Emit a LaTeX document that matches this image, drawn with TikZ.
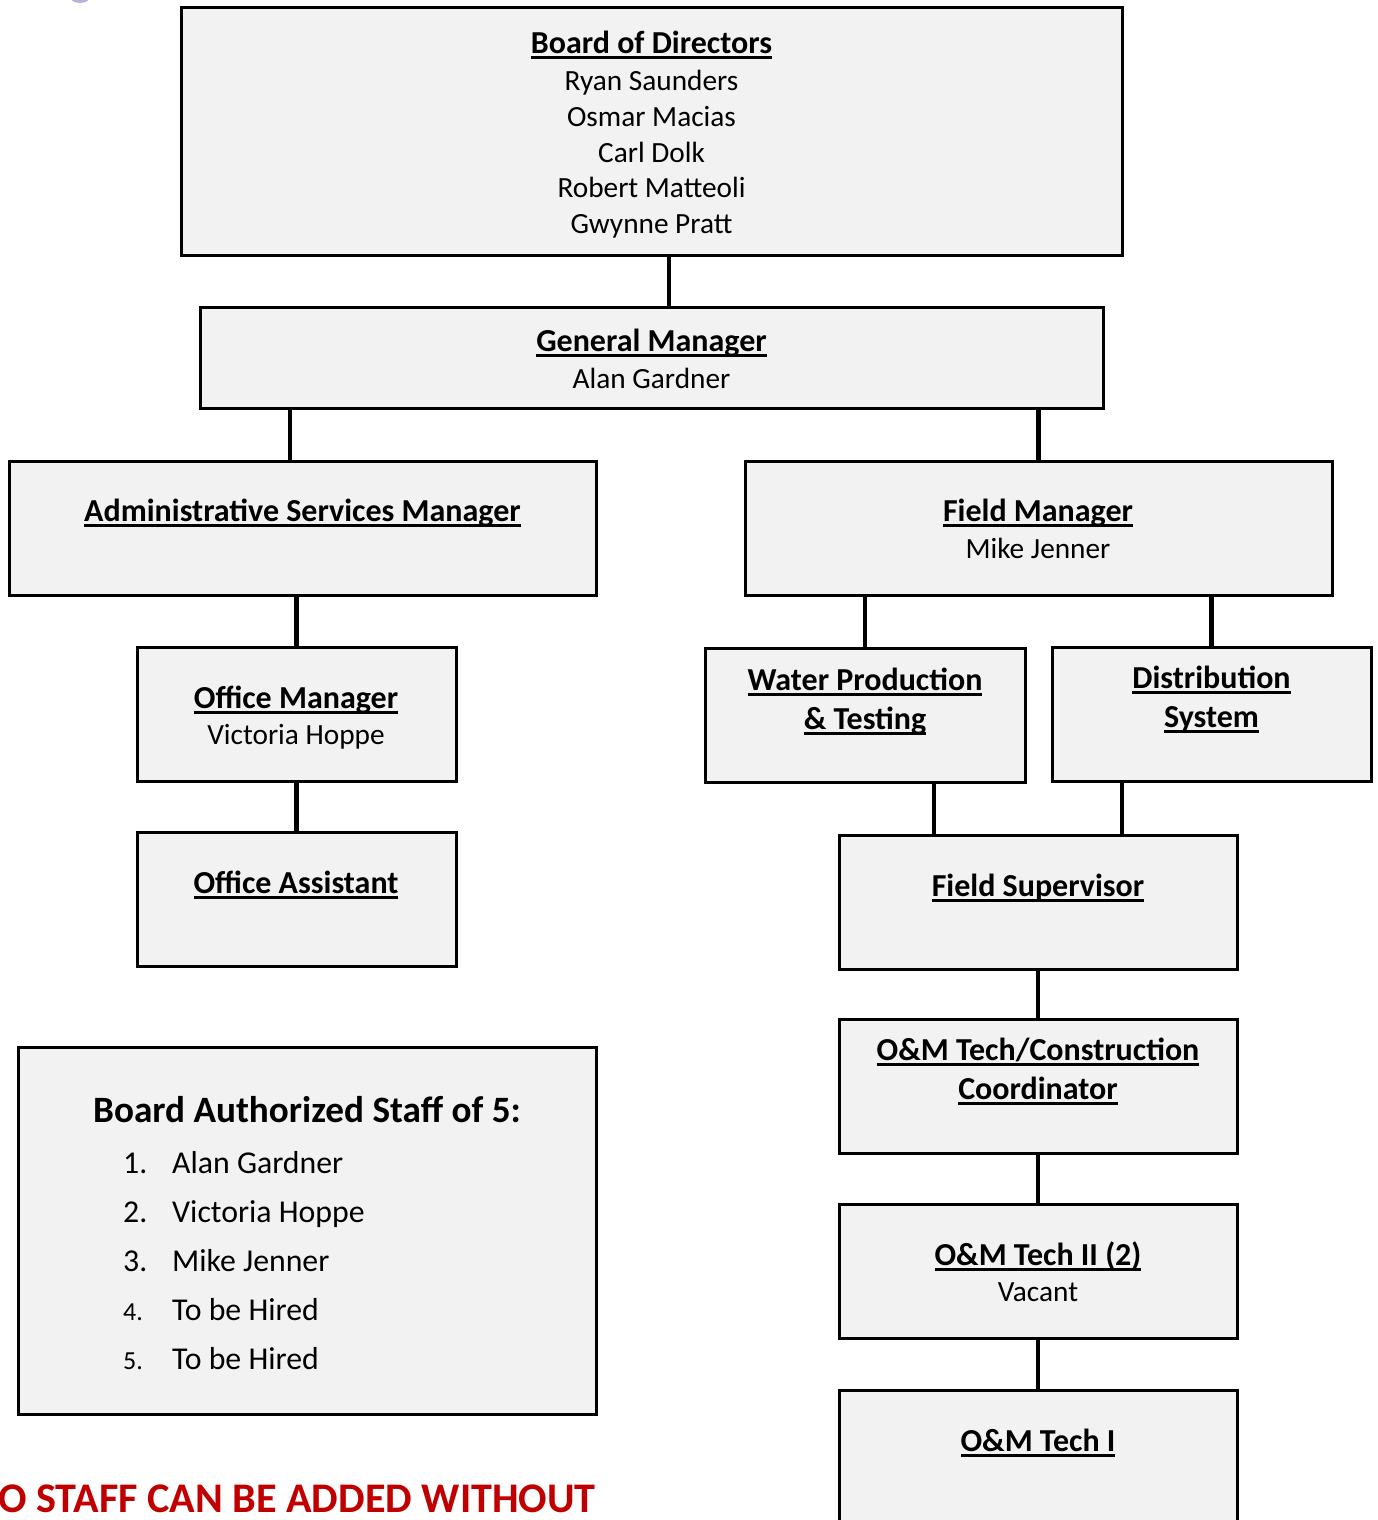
\documentclass[tikz,border=0pt]{standalone}
\usepackage{fontspec}
\setmainfont{Carlito}
\newcommand{\myul}[1]{\setbox0\hbox{#1}\rlap{\rule[-5.8pt]{\wd0}{2.6pt}}\box0}
\definecolor{boxfill}{HTML}{F2F2F2}
\definecolor{warnred}{HTML}{C00000}
\definecolor{blobpurple}{HTML}{B9B0DC}
\tikzset{
  box/.style={draw=black, line width=3pt, fill=boxfill, rectangle, inner sep=0pt},
  conn/.style={draw=black, line width=4.5pt},
  ttl/.style={anchor=base, inner sep=0pt, font=\fontsize{32}{38}\selectfont\bfseries},
  nm/.style={anchor=base, inner sep=0pt, font=\fontsize{29.3}{35}\selectfont},
  lst/.style={anchor=base west, inner sep=0pt, font=\fontsize{31.8}{38}\selectfont},
}
\begin{document}
\begin{tikzpicture}[x=1pt,y=-1pt]
\useasboundingbox (0,0) rectangle (1377,1520);
\fill[blobpurple] (80,-3) ellipse [x radius=10, y radius=6];

% boxes
\node[box, minimum width=941pt, minimum height=247pt] (bod) at (651.5,131.5) {};
\node[box, minimum width=903pt, minimum height=101pt] (gm) at (651.5,357.5) {};
\node[box, minimum width=587pt, minimum height=134pt] (asm) at (302.5,528) {};
\node[box, minimum width=587pt, minimum height=134pt] (fm) at (1038.5,528) {};
\node[box, minimum width=319pt, minimum height=134pt] (om) at (296.5,714) {};
\node[box, minimum width=319pt, minimum height=134pt] (oa) at (296.5,899) {};
\node[box, minimum width=320pt, minimum height=134pt] (wp) at (865,715) {};
\node[box, minimum width=319pt, minimum height=134pt] (ds) at (1211.5,714) {};
\node[box, minimum width=398pt, minimum height=134pt] (fs) at (1038,902) {};
\node[box, minimum width=398pt, minimum height=134pt] (omc) at (1038,1086) {};
\node[box, minimum width=398pt, minimum height=134pt] (t2) at (1038,1271) {};
\node[box, minimum width=398pt, minimum height=134pt] (t1) at (1038,1457) {};
\node[box, minimum width=578pt, minimum height=367pt] (staff) at (307,1230.5) {};

% connectors
\draw[conn] ([xshift=17.5pt]gm.north) -- ([xshift=17.5pt]gm.north |- bod.south);
\draw[conn] ([xshift=-12.5pt]asm.north) -- ([xshift=-12.5pt]asm.north |- gm.south);
\draw[conn] (fm.north) -- (fm.north |- gm.south);
\draw[conn] (om.north) -- (om.north |- asm.south);
\draw[conn] (om.south) -- (oa.north);
\draw[conn] (wp.north) -- (wp.north |- fm.south);
\draw[conn] (ds.north) -- (ds.north |- fm.south);
\draw[conn] ([xshift=69pt]wp.south) -- ([xshift=69pt]wp.south |- fs.north);
\draw[conn] ([xshift=-89.5pt]ds.south) -- ([xshift=-89.5pt]ds.south |- fs.north);
\draw[conn] (fs.south) -- (omc.north);
\draw[conn] (omc.south) -- (t2.north);
\draw[conn] (t2.south) -- (t1.north);

% texts
\node[ttl] (bodt) at (651.5,53) {\myul{Board of Directors}};
\node[nm] (bod1) at (651.5,90) {Ryan Saunders};
\node[nm] (bod2) at (651.5,126) {Osmar Macias};
\node[nm] (bod3) at (651.5,162) {Carl Dolk};
\node[nm] (bod4) at (651.5,197) {Robert Matteoli};
\node[nm] (bod5) at (651.5,233) {Gwynne Pratt};

\node[ttl] (gmt) at (651.5,351) {\myul{General Manager}};
\node[nm] (gmn) at (651.5,388) {Alan Gardner};

\node[ttl] (asmt) at (302.5,521) {\myul{Administrative Services Manager}};

\node[ttl] (fmt) at (1038,521) {\myul{Field Manager}};
\node[nm] (fmn) at (1038,558) {Mike Jenner};

\node[ttl] (omt) at (296,708) {\myul{Office Manager}};
\node[nm] (omn) at (296,744) {Victoria Hoppe};

\node[ttl] (oat) at (296,893) {\myul{Office Assistant}};

\node[ttl] (wpt1) at (865,690) {\myul{Water Production}};
\node[ttl] (wpt2) at (865,729) {\myul{\& Testing}};

\node[ttl] (dst1) at (1211.5,688) {\myul{Distribution}};
\node[ttl] (dst2) at (1211.5,727) {\myul{System}};

\node[ttl] (fst) at (1038,896) {\myul{Field Supervisor}};

\node[ttl] (omct1) at (1038,1060) {\myul{O\&M Tech/Construction}};
\node[ttl] (omct2) at (1038,1099) {\myul{Coordinator}};

\node[ttl] (t2t) at (1038,1265) {\myul{O\&M Tech II (2)}};
\node[nm] (t2n) at (1038,1301) {Vacant};

\node[ttl] (t1t) at (1038,1451) {\myul{O\&M Tech I}};

% staff list
\node[anchor=base west, inner sep=0pt, font=\fontsize{37.2}{42}\selectfont\bfseries] (sh) at (93,1122) {Board Authorized Staff of 5:};
\node[lst] (n1) at (123,1173) {1.};
\node[lst] (n2) at (123,1222) {2.};
\node[lst] (n3) at (123,1271) {3.};
\node[lst, font=\fontsize{26}{30}\selectfont] (n4) at (123,1320) {4.};
\node[lst, font=\fontsize{26}{30}\selectfont] (n5) at (123,1369) {5.};
\node[lst] (s1) at (172,1173) {Alan Gardner};
\node[lst] (s2) at (172,1222) {Victoria Hoppe};
\node[lst] (s3) at (172,1271) {Mike Jenner};
\node[lst] (s4) at (172,1320) {To be Hired};
\node[lst] (s5) at (172,1369) {To be Hired};

\node[anchor=base east, inner sep=0pt, text=warnred, font=\fontsize{42.2}{48}\selectfont\bfseries] (warn) at (596,1512) {NO STAFF CAN BE ADDED WITHOUT};
\end{tikzpicture}
\end{document}
